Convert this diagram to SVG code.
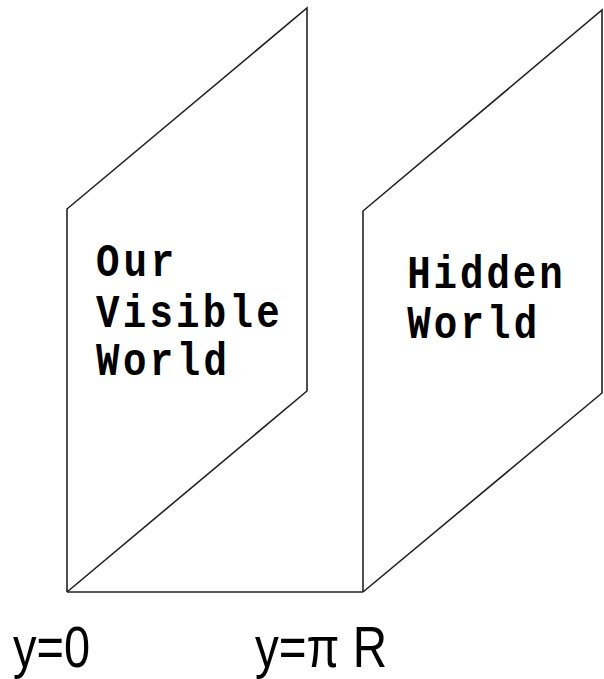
<svg xmlns="http://www.w3.org/2000/svg" width="604" height="679" viewBox="0 0 604 679">
<style>
.edge{fill:none;stroke:#222;stroke-width:1.6;stroke-linejoin:miter}
.lbl{font-family:"Liberation Mono","DejaVu Sans Mono",monospace;font-weight:bold;font-size:46px;fill:#000}
.axis{font-family:"Liberation Sans","Noto Sans",sans-serif;font-size:58px;fill:#000}
</style>
<rect width="604" height="679" fill="#fff"/>
<g id="visible-world">
<path class="edge" d="M67,592 L67,209 L307,8 L307,391 L67,592"/>
<g transform="scale(0.85,1)">
<text class="lbl" x="113" y="276" textLength="92" lengthAdjust="spacing">Our</text>
<text class="lbl" x="113" y="327" textLength="216" lengthAdjust="spacing">Visible</text>
<text class="lbl" x="113" y="375" textLength="154" lengthAdjust="spacing">World</text>
</g>
</g>
<g id="hidden-world">
<path class="edge" d="M363,592 L363,211 L602,10 L602,393 L363,592"/>
<g transform="scale(0.85,1)">
<text class="lbl" x="479" y="288" textLength="183" lengthAdjust="spacing">Hidden</text>
<text class="lbl" x="479" y="338" textLength="153" lengthAdjust="spacing">World</text>
</g>
</g>
<g id="connectors">
<line class="edge" x1="67" y1="592" x2="363" y2="592"/>
</g>
<g id="labels">
<text class="axis" x="13" y="667" textLength="77" lengthAdjust="spacingAndGlyphs">y=0</text>
<text class="axis" x="255" y="667" textLength="132" lengthAdjust="spacingAndGlyphs">y=π R</text>
</g>
</svg>
